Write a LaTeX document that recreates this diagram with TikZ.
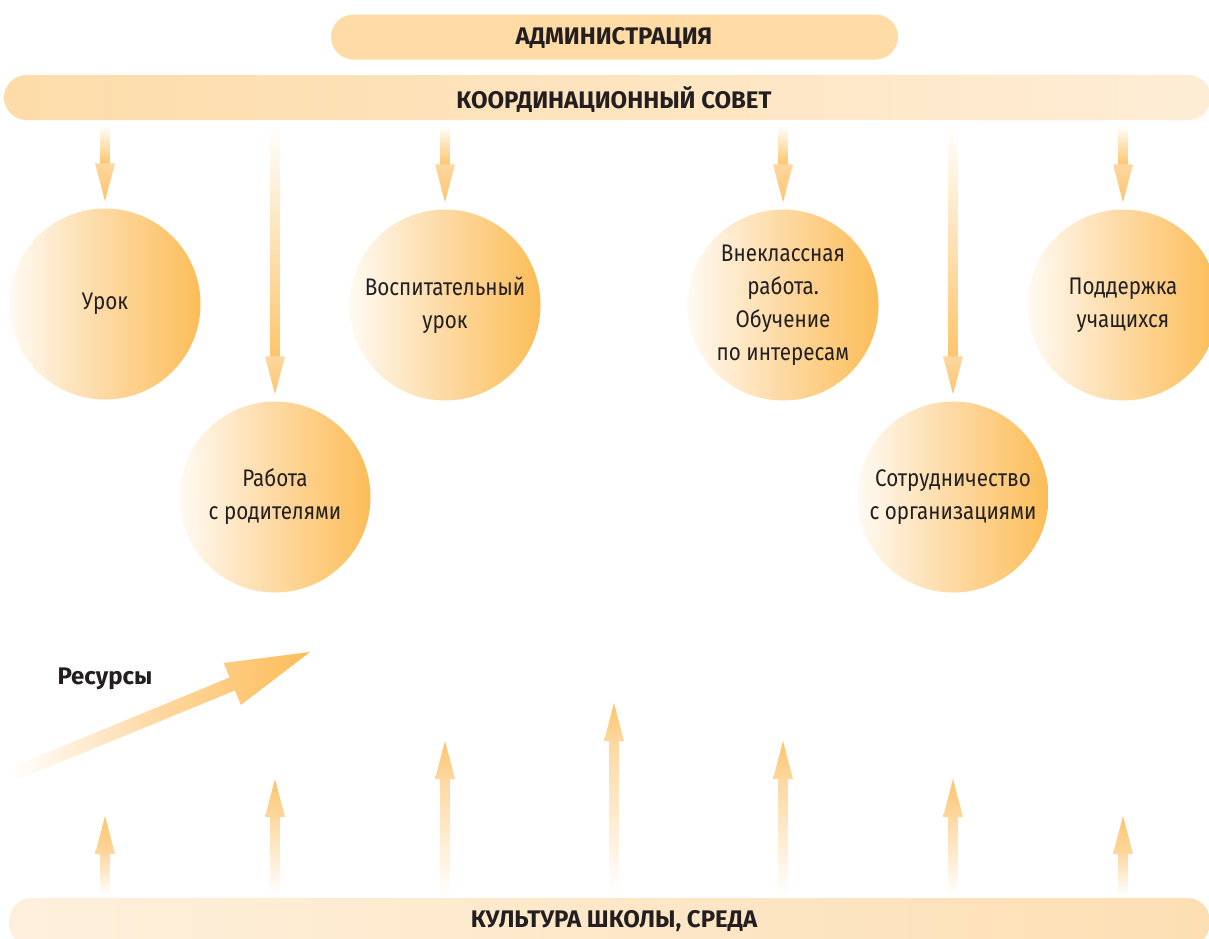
\documentclass[tikz,border=0pt]{standalone}
\usepackage{fontspec}
\setmainfont{Fira Sans}
\newfontfamily\condfont[FakeStretch=0.86]{Fira Sans}
\usetikzlibrary{calc}
\definecolor{txt}{HTML}{231F20}
\definecolor{orng}{HTML}{FCBD58}
\definecolor{midc}{HTML}{FDD9A2}
\definecolor{pale}{HTML}{FFFAF3}
\definecolor{arr}{HTML}{FDC56B}
\definecolor{arrlight}{HTML}{FED79F}
\definecolor{adm}{HTML}{FFDBA6}
\definecolor{csa}{HTML}{FDDCA9}
\definecolor{csb}{HTML}{FEEDD6}
\definecolor{cua}{HTML}{FEF0DD}
\definecolor{cub}{HTML}{FDDFB3}
\begin{document}
\begin{tikzpicture}[x=1pt,y=-1pt,
  bar/.style={rounded corners=22.5pt, minimum height=45pt, inner sep=0pt},
  head/.style={font=\bfseries\fontsize{24}{28}\selectfont, text=txt, inner sep=0pt},
  ball/.style={circle, minimum size=191pt, inner sep=0pt, left color=pale, right color=orng, middle color=midc,
    align=center, font=\condfont\fontsize{24}{33}\selectfont, text=txt},
]
\useasboundingbox (0,0) rectangle (1209,938);
\clip (0,0) rectangle (1209,938);

% bars
\node[bar, fill=adm, minimum width=567pt] (adm) at (614.5,37) {};
\node[head] (admtext) at (614,38) {АДМИНИСТРАЦИЯ};
\node[bar, left color=csa, right color=csb, minimum width=1207pt] (cs) at (607.5,97.5) {};
\node[head] (cstext) at (614,99.5) {КООРДИНАЦИОННЫЙ СОВЕТ};
\node[bar, left color=cua, right color=cub, minimum width=1201pt, minimum height=48pt] (cu) at (609.5,922) {};
\node[head] (cutext) at (614,921) {КУЛЬТУРА ШКОЛЫ, СРЕДА};

% circles
\node[ball] (urok) at (105,304) {Урок};
\node[ball] (rod)  at (275,497) {Работа\\с родителями};
\node[ball] (vosp) at (445,305) {Воспитательный\\урок};
\node[ball] (vnek) at (783,305) {Внеклассная\\работа.\\Обучение\\по интересам};
\node[ball] (sotr) at (953,497) {Сотрудничество\\с организациями};
\node[ball] (podd) at (1123,305) {Поддержка\\учащихся};

% down arrows from the council
\foreach \n in {urok,rod,vosp,vnek,sotr,podd}{
  \coordinate (t\n) at ($(\n.north)+(0,-7)$);
  \shade[top color=white, bottom color=arr] ($(t\n |- cs.south)+(-4.5,5)$) rectangle ($(t\n)+(4.5,-37)$);
  \shade[top color=arrlight, bottom color=arr] ($(t\n)+(-10,-38)$) -- ($(t\n)+(10,-38)$) -- (t\n) -- cycle;
}

% up arrows from the culture bar
\coordinate (u1) at (105,816);
\coordinate (u2) at (275,779);
\coordinate (u3) at (445,741);
\coordinate (u4) at (614,703);
\coordinate (u5) at (783,741);
\coordinate (u6) at (953,779);
\coordinate (u7) at (1123,816);
\foreach \u in {u1,u2,u3,u4,u5,u6,u7}{
  \shade[bottom color=white, top color=arrlight] ($(\u |- cu.north)+(-4.5,-3)$) rectangle ($(\u)+(4.5,37)$);
  \shade[top color=arr, bottom color=arrlight] ($(\u)+(-10,38)$) -- ($(\u)+(10,38)$) -- (\u) -- cycle;
}

% resources arrow
\coordinate (rs) at (14.5,773.5);
\coordinate (rt) at (310,652);
\begin{scope}[shift={(rs)}, rotate=22.35]
  \shade[left color=white, right color=orng, middle color=arrlight]
    (0,-7) -- (235.5,-7) -- (235.5,-22.7) -- (319.5,0) -- (235.5,22.7) -- (235.5,7) -- (0,7) -- cycle;
\end{scope}
\node[head] (res) at (105,679) {Ресурсы};
\end{tikzpicture}
\end{document}
